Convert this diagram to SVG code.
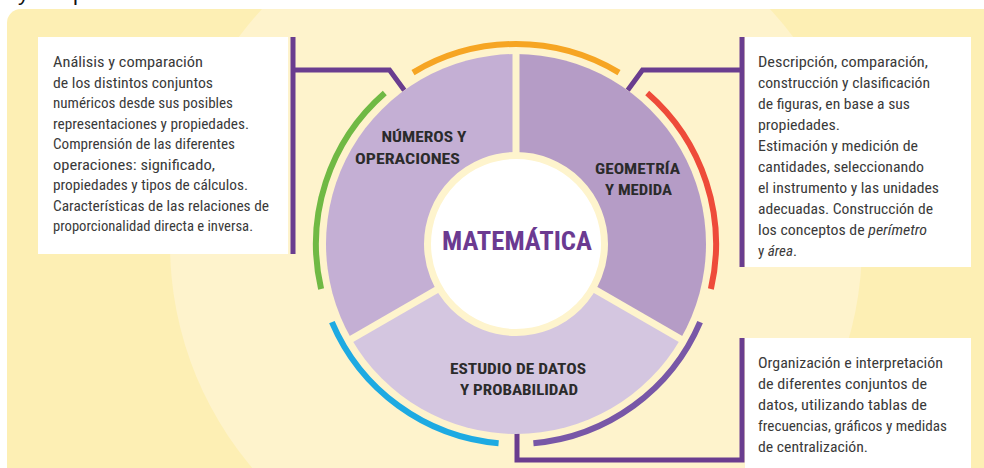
<svg xmlns="http://www.w3.org/2000/svg" width="984" height="468" viewBox="0 0 984 468">
  <style>
    .body { font-family: "Liberation Sans Narrow", "Roboto Condensed", "Liberation Sans", Arial, sans-serif; font-size: 14px; fill: #3a3a3a; }
    .lbl { font-family: "Liberation Sans Narrow", "Roboto Condensed", "Liberation Sans", Arial, sans-serif; font-size: 15px; font-weight: bold; fill: #2b2b2b; }
    .title { font-family: "Liberation Sans Narrow", "Roboto Condensed", "Liberation Sans", Arial, sans-serif; font-size: 26px; font-weight: bold; fill: #6b3a91; }
    .frag { font-family: "Liberation Sans", Arial, sans-serif; font-size: 22px; fill: #111; }
    .conn { fill: none; stroke: #6a3d8f; stroke-width: 5; }
    .arc { fill: none; stroke-width: 6; }
    .box { fill: #ffffff; }
    .gap { stroke: #fef4cd; stroke-width: 7; }
  </style>

  <!-- background -->
  <rect x="0" y="0" width="984" height="468" fill="#ffffff"/>
  <rect x="7" y="9" width="1000" height="480" rx="14" fill="#fdefb4"/>
  <circle cx="516" cy="244" r="346" fill="#fef3cc"/>
  <rect x="0" y="0" width="984" height="9" fill="#ffffff"/>
  <text class="frag" x="18" y="0">y</text>
  <text class="frag" x="73" y="0">p</text>

  <!-- connectors -->
  <g id="connectors">
    <path class="conn" d="M293,37 V254"/>
    <path class="conn" d="M293,70 H389.5 L404.3,90.3"/>
    <path class="conn" d="M742,37 V267"/>
    <path class="conn" d="M742,70 H642.5 L627.7,90.3"/>
    <path class="conn" d="M517,432 V460 H742 V338"/>
  </g>

  <!-- outer colored arcs -->
  <g id="ring">
    <path class="arc" stroke="#f6a523" d="M413,72.56 A200,200 0 0 1 619,72.56"/>
    <path class="arc" stroke="#ee4b3a" d="M647.2,93.06 A200,200 0 0 1 710.9,289"/>
    <path class="arc" stroke="#7857a7" d="M700.1,322.1 A200,200 0 0 1 533.4,443.2"/>
    <path class="arc" stroke="#1eaae2" d="M498.6,443.2 A200,200 0 0 1 331.9,322.1"/>
    <path class="arc" stroke="#70b944" d="M321.1,289 A200,200 0 0 1 384.8,93.06"/>
  </g>

  <!-- wheel segments -->
  <g id="numeros">
    <path fill="#c4afd4" d="M516,244 L351.46,339 A190,190 0 0 1 516,54 Z"/>
    <text class="lbl" x="381.5" y="142" textLength="85" lengthAdjust="spacingAndGlyphs">NÚMEROS Y</text>
    <text class="lbl" x="355" y="163.5" textLength="105" lengthAdjust="spacingAndGlyphs">OPERACIONES</text>
  </g>
  <g id="geometria">
    <path fill="#b59cc6" d="M516,244 L516,54 A190,190 0 0 1 680.54,339 Z"/>
    <text class="lbl" x="595" y="173.5" textLength="85" lengthAdjust="spacingAndGlyphs">GEOMETRÍA</text>
    <text class="lbl" x="605" y="195" textLength="67" lengthAdjust="spacingAndGlyphs">Y MEDIDA</text>
  </g>
  <g id="estudio">
    <path fill="#d4c6e0" d="M516,244 L680.54,339 A190,190 0 0 1 351.46,339 Z"/>
    <text class="lbl" x="450" y="373.5" textLength="136" lengthAdjust="spacingAndGlyphs">ESTUDIO DE DATOS</text>
    <text class="lbl" x="460" y="395" textLength="118" lengthAdjust="spacingAndGlyphs">Y PROBABILIDAD</text>
  </g>
  <g id="dividers">
    <line class="gap" x1="516" y1="244" x2="516" y2="52"/>
    <line class="gap" x1="516" y1="244" x2="682.3" y2="340"/>
    <line class="gap" x1="516" y1="244" x2="349.7" y2="340"/>
  </g>
  <g id="matematica">
    <circle cx="516" cy="244" r="88.5" fill="#ffffff" stroke="#fef4cd" stroke-width="7"/>
    <text class="title" x="442" y="250" textLength="150" lengthAdjust="spacingAndGlyphs">MATEMÁTICA</text>
  </g>

  <!-- left text box -->
  <g id="box-numeros">
    <rect class="box" x="38" y="37" width="250" height="217"/>
    <text class="body" x="53" y="67" textLength="150" lengthAdjust="spacingAndGlyphs">Análisis y  comparación</text>
    <text class="body" x="53" y="87.5" textLength="160" lengthAdjust="spacingAndGlyphs">de los distintos conjuntos</text>
    <text class="body" x="53" y="108" textLength="180" lengthAdjust="spacingAndGlyphs">numéricos desde sus posibles</text>
    <text class="body" x="53" y="128.5" textLength="196" lengthAdjust="spacingAndGlyphs">representaciones y propiedades.</text>
    <text class="body" x="53" y="149" textLength="182" lengthAdjust="spacingAndGlyphs">Comprensión de las diferentes</text>
    <text class="body" x="53" y="169.5" textLength="162" lengthAdjust="spacingAndGlyphs">operaciones: significado,</text>
    <text class="body" x="53" y="190" textLength="195" lengthAdjust="spacingAndGlyphs">propiedades y tipos de cálculos.</text>
    <text class="body" x="53" y="210.5" textLength="216" lengthAdjust="spacingAndGlyphs">Características de las relaciones de</text>
    <text class="body" x="53" y="231" textLength="200" lengthAdjust="spacingAndGlyphs">proporcionalidad directa e inversa.</text>
  </g>

  <!-- right top text box -->
  <g id="box-geometria">
    <rect class="box" x="745" y="37" width="226" height="230"/>
    <text class="body" x="758" y="67" textLength="170" lengthAdjust="spacingAndGlyphs">Descripción, comparación,</text>
    <text class="body" x="758" y="88" textLength="172" lengthAdjust="spacingAndGlyphs">construcción y clasificación</text>
    <text class="body" x="758" y="109" textLength="152" lengthAdjust="spacingAndGlyphs">de figuras, en base a sus</text>
    <text class="body" x="758" y="130" textLength="82" lengthAdjust="spacingAndGlyphs">propiedades.</text>
    <text class="body" x="758" y="151" textLength="160" lengthAdjust="spacingAndGlyphs">Estimación y medición de</text>
    <text class="body" x="758" y="172" textLength="166" lengthAdjust="spacingAndGlyphs">cantidades, seleccionando</text>
    <text class="body" x="758" y="193" textLength="181" lengthAdjust="spacingAndGlyphs">el instrumento y las unidades</text>
    <text class="body" x="758" y="214" textLength="175" lengthAdjust="spacingAndGlyphs">adecuadas. Construcción de</text>
    <text class="body" x="758" y="235" textLength="169" lengthAdjust="spacingAndGlyphs">los conceptos de <tspan font-style="italic">perímetro</tspan></text>
    <text class="body" x="758" y="256" textLength="39" lengthAdjust="spacingAndGlyphs">y <tspan font-style="italic">área</tspan>.</text>
  </g>

  <!-- right bottom text box -->
  <g id="box-estudio">
    <rect class="box" x="745" y="338" width="226" height="130"/>
    <text class="body" x="758" y="368" textLength="185" lengthAdjust="spacingAndGlyphs">Organización e interpretación</text>
    <text class="body" x="758" y="389" textLength="169" lengthAdjust="spacingAndGlyphs">de diferentes conjuntos de</text>
    <text class="body" x="758" y="410" textLength="169" lengthAdjust="spacingAndGlyphs">datos, utilizando tablas de</text>
    <text class="body" x="758" y="431" textLength="189" lengthAdjust="spacingAndGlyphs">frecuencias, gráficos y medidas</text>
    <text class="body" x="758" y="452" textLength="110" lengthAdjust="spacingAndGlyphs">de centralización.</text>
  </g>
</svg>
